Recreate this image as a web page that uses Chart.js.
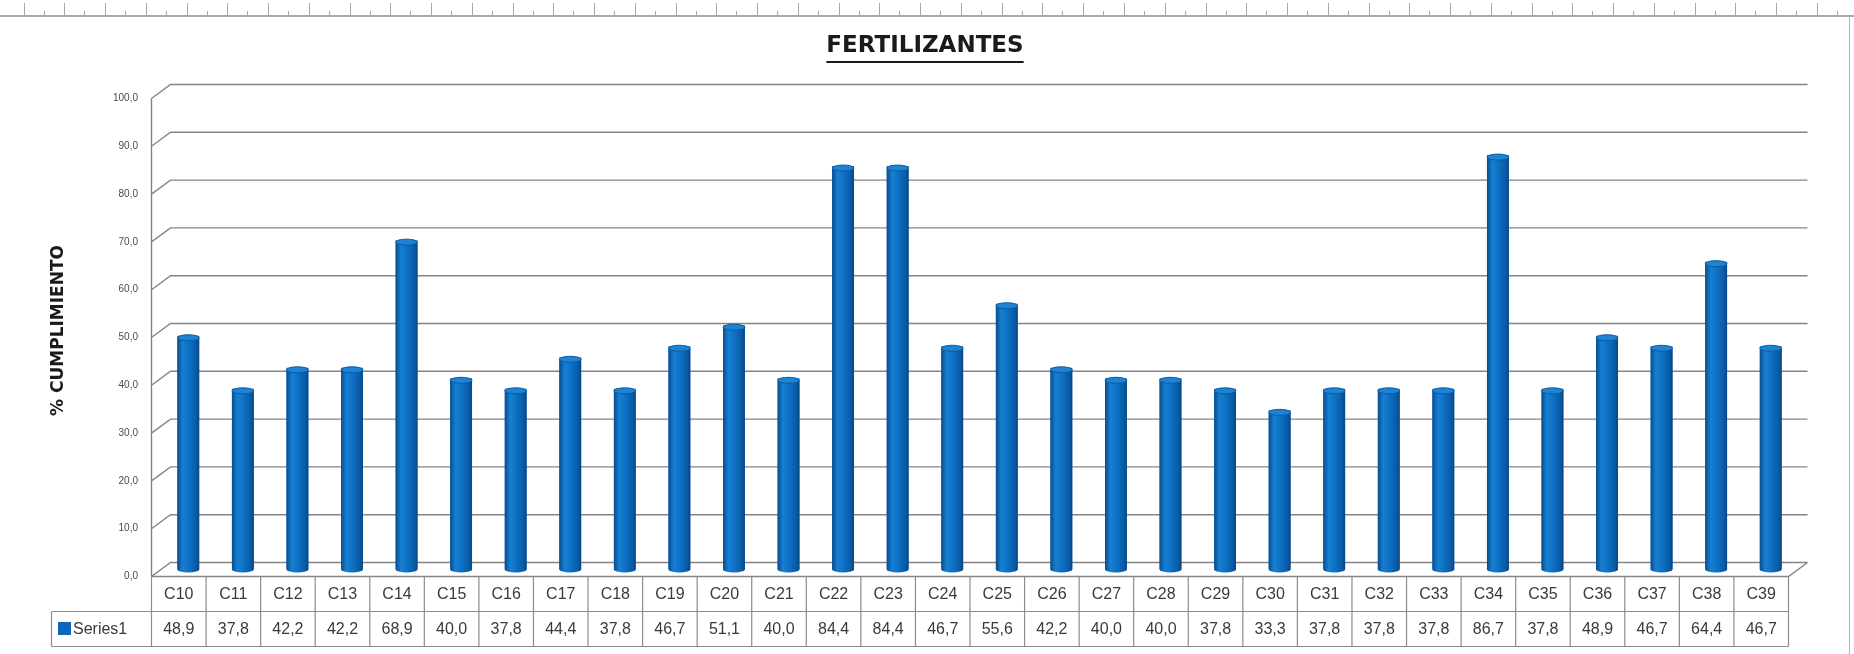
<!DOCTYPE html>
<html>
<head>
<meta charset="utf-8">
<script src="https://cdn.jsdelivr.net/npm/chart.js@4"></script>
<style>
  body { margin: 0; background: #fff; }
  #wrap { width: 1854px; height: 654px; position: relative; }
</style>
</head>
<body>
<div id="wrap"><canvas id="fertChart"></canvas></div>
<script>
var chartTitle = 'FERTILIZANTES';
var axisTitle = '% CUMPLIMIENTO';
var seriesName = 'Series1';
var categories = ['C10', 'C11', 'C12', 'C13', 'C14', 'C15', 'C16', 'C17', 'C18', 'C19',
    'C20', 'C21', 'C22', 'C23', 'C24', 'C25', 'C26', 'C27', 'C28', 'C29',
    'C30', 'C31', 'C32', 'C33', 'C34', 'C35', 'C36', 'C37', 'C38', 'C39'];
var series1 = [48.9, 37.8, 42.2, 42.2, 68.9, 40.0, 37.8, 44.4, 37.8, 46.7,
    51.1, 40.0, 84.4, 84.4, 46.7, 55.6, 42.2, 40.0, 40.0, 37.8,
    33.3, 37.8, 37.8, 37.8, 86.7, 37.8, 48.9, 46.7, 64.4, 46.7];
var yTicks = [0, 10, 20, 30, 40, 50, 60, 70, 80, 90, 100];

// half of the 3d depth: back wall is +DX,-DY from the bars, front is -DX,+DY
var DX = 9.5, DY = 7;

function fmt(v) {
    return v.toFixed(1).replace('.', ',');
}

var sheetPlugin = {
    id: 'sheet',
    beforeDatasetsDraw: function (chart) {
        var ctx = chart.ctx;
        var ys = chart.scales.y, xs = chart.scales.x;
        var left = xs.left, right = xs.right;
        ctx.save();
        // spreadsheet ruler on top
        ctx.strokeStyle = '#a8a8a8';
        ctx.lineWidth = 2;
        ctx.beginPath();
        ctx.moveTo(0, 16); ctx.lineTo(chart.width, 16);
        ctx.stroke();
        ctx.lineWidth = 1;
        ctx.beginPath();
        for (var t = 23.5; t < chart.width; t += 40.76) {
            ctx.moveTo(Math.round(t) + 0.5, 3); ctx.lineTo(Math.round(t) + 0.5, 16);
            ctx.moveTo(Math.round(t + 20) + 0.5, 11); ctx.lineTo(Math.round(t + 20) + 0.5, 16);
        }
        ctx.stroke();
        // right border of the chart object
        ctx.strokeStyle = '#b4b4b4';
        ctx.beginPath();
        ctx.moveTo(1849.5, 16); ctx.lineTo(1849.5, chart.height);
        ctx.stroke();

        // back wall gridlines and left wall diagonals
        ctx.strokeStyle = '#858585';
        ctx.lineWidth = 1.4;
        ctx.beginPath();
        yTicks.forEach(function (v) {
            var py = ys.getPixelForValue(v);
            ctx.moveTo(left - DX, py + DY);
            ctx.lineTo(left + DX, py - DY);
            ctx.lineTo(right + DX, py - DY);
        });
        ctx.moveTo(left - DX, ys.getPixelForValue(100) + DY);
        ctx.lineTo(left - DX, ys.getPixelForValue(0) + DY);
        // floor front edge and right diagonal
        ctx.moveTo(left - DX, ys.getPixelForValue(0) + DY);
        ctx.lineTo(right - DX, ys.getPixelForValue(0) + DY);
        ctx.lineTo(right + DX, ys.getPixelForValue(0) - DY);
        ctx.stroke();
        ctx.restore();
    },
    afterDatasetsDraw: function (chart) {
        var ctx = chart.ctx;
        var meta = chart.getDatasetMeta(0);
        ctx.save();
        meta.data.forEach(function (bar) {
            var x = bar.x, y = bar.y, b = bar.base, w = bar.width;
            var l = x - w / 2, r = x + w / 2, ry = 3;
            var g = ctx.createLinearGradient(l, 0, r, 0);
            g.addColorStop(0, '#0a4c8e');
            g.addColorStop(0.25, '#1680d2');
            g.addColorStop(0.5, '#0f72c6');
            g.addColorStop(0.85, '#0a5ba6');
            g.addColorStop(1, '#074683');
            ctx.fillStyle = g;
            ctx.beginPath();
            ctx.moveTo(l, y + 2);
            ctx.lineTo(l, b);
            ctx.ellipse(x, b, w / 2, ry, 0, Math.PI, 0, true);
            ctx.lineTo(r, y + 2);
            ctx.closePath();
            ctx.fill();
            ctx.fillStyle = '#1f83d4';
            ctx.strokeStyle = '#0a5aa3';
            ctx.lineWidth = 1;
            ctx.beginPath();
            ctx.ellipse(x, y + 2, w / 2, ry, 0, 0, Math.PI * 2);
            ctx.fill();
            ctx.stroke();
        });
        ctx.restore();
    },
    afterDraw: function (chart) {
        var ctx = chart.ctx;
        var xs = chart.scales.x, ys = chart.scales.y;
        var colW = (xs.right - xs.left) / categories.length;
        var top = ys.getPixelForValue(0) + DY;
        var mid = 611.5, bot = 646.5;
        var x0 = xs.left - DX, x1 = xs.right - DX;
        var tb = chart.titleBlock;
        ctx.save();
        // title underline, centred like the title text
        ctx.font = 'bold 23px "DejaVu Sans"';
        var tw = ctx.measureText(chartTitle).width;
        var tc = (tb.left + tb.right) / 2;
        ctx.strokeStyle = '#1a1a1a';
        ctx.lineWidth = 2;
        ctx.beginPath();
        ctx.moveTo(tc - tw / 2, 62);
        ctx.lineTo(tc + tw / 2, 62);
        ctx.stroke();

        // data table
        ctx.strokeStyle = '#8c8c8c';
        ctx.lineWidth = 1.2;
        ctx.beginPath();
        ctx.moveTo(51.5, mid); ctx.lineTo(x1, mid);
        ctx.moveTo(51.5, bot); ctx.lineTo(x1, bot);
        ctx.moveTo(51.5, mid); ctx.lineTo(51.5, bot);
        for (var k = 0; k <= categories.length; k++) {
            var cx = x0 + k * colW;
            ctx.moveTo(cx, top); ctx.lineTo(cx, bot);
        }
        ctx.stroke();

        ctx.fillStyle = '#3a3a3a';
        ctx.font = '16px "Liberation Sans"';
        ctx.textAlign = 'center';
        ctx.textBaseline = 'middle';
        categories.forEach(function (c, i) {
            var px = xs.getPixelForValue(i) - DX;
            ctx.fillText(c, px, (top + mid) / 2 + 1);
            ctx.fillText(fmt(series1[i]), px, (mid + bot) / 2 + 1);
        });
        ctx.fillStyle = '#0b67b8';
        ctx.fillRect(58, 622, 13, 13);
        ctx.fillStyle = '#3a3a3a';
        ctx.textAlign = 'left';
        ctx.fillText(seriesName, 73, (mid + bot) / 2 + 1);
        ctx.restore();
    }
};

document.addEventListener('DOMContentLoaded', function () {
    var ctx = document.getElementById('fertChart').getContext('2d');
    var fertChart = new Chart(ctx, {
        type: 'bar',
        data: {
            labels: categories,
            datasets: [{
                label: seriesName,
                data: series1,
                backgroundColor: '#0b67b8',
                categoryPercentage: 1,
                barPercentage: 0.4
            }]
        },
        options: {
            responsive: true,
            maintainAspectRatio: false,
            animation: false,
            layout: {
                padding: { left: 52, right: 56, top: 0, bottom: 84.5 }
            },
            scales: {
                x: {
                    display: false,
                    offset: true
                },
                y: {
                    min: 0,
                    max: 100,
                    afterFit: function (scale) { scale.width = 109; },
                    grid: { display: false, drawTicks: false },
                    border: { display: false },
                    ticks: {
                        stepSize: 10,
                        padding: 23,
                        labelOffset: DY,
                        color: '#4a4a4a',
                        font: { family: 'Liberation Sans', size: 10 },
                        callback: function (v) { return fmt(v); }
                    },
                    title: {
                        display: true,
                        text: axisTitle,
                        color: '#1a1a1a',
                        font: { family: 'DejaVu Sans', size: 17, weight: 'bold' },
                        padding: { top: -4, bottom: 0 }
                    }
                }
            },
            plugins: {
                legend: { display: false },
                tooltip: { enabled: false },
                title: {
                    display: true,
                    text: chartTitle,
                    color: '#1a1a1a',
                    font: { family: 'DejaVu Sans', size: 23, weight: 'bold' },
                    padding: { top: 32, bottom: 31.9 }
                }
            }
        },
        plugins: [sheetPlugin]
    });
});
</script>
</body>
</html>
